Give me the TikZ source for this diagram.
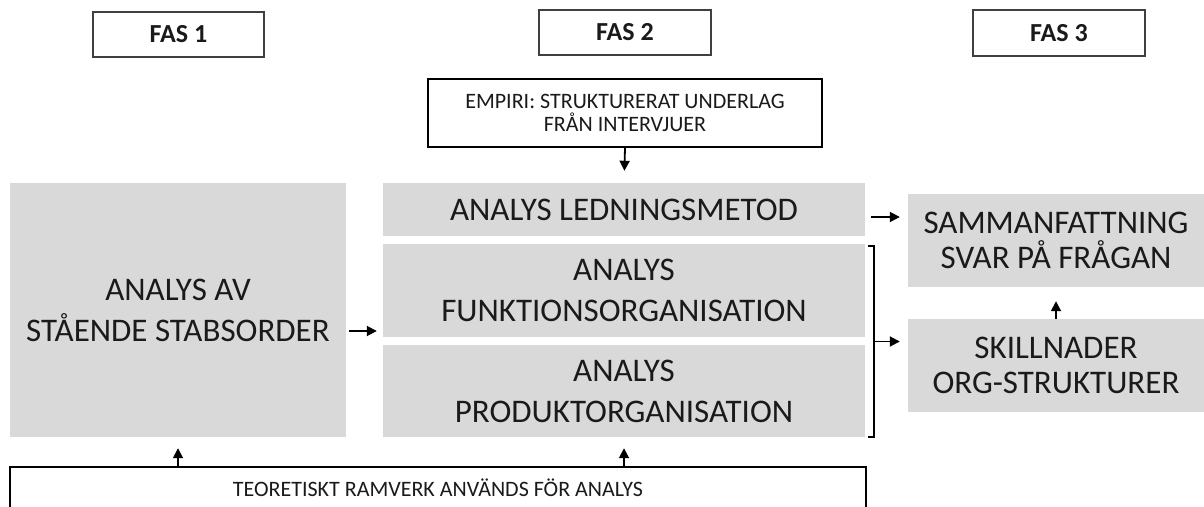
\documentclass[tikz,border=0pt]{standalone}
\usepackage{fontspec}
\setmainfont{Carlito}
\usetikzlibrary{arrows.meta}
\definecolor{panel}{HTML}{D9D9D9}
\definecolor{ink}{HTML}{1A1A1A}
\tikzset{
  graybox/.style={fill=panel, draw=none, inner sep=0pt, align=center,
    text=ink, font=\fontsize{33}{41}\selectfont},
  phasebox/.style={draw=black!75, line width=1.4pt, fill=white, inner sep=0pt,
    text=ink, font=\bfseries\fontsize{26}{30}\selectfont},
  notebox/.style={draw=black, line width=2pt, fill=white, inner sep=0pt,
    align=center, text=ink, font=\fontsize{22}{23}\selectfont},
  arr/.style={line width=1.8pt, -{Triangle[length=10pt,width=10pt]}},
}
\begin{document}
\begin{tikzpicture}[x=1pt,y=-1pt]
\useasboundingbox (0,0) rectangle (1204,506);
\clip (0,0) rectangle (1204,506);

% phase headings
\node[phasebox, minimum width=171pt, minimum height=45pt] (fas1) at (178.5,34.5) {FAS 1};
\node[phasebox, minimum width=172pt, minimum height=45pt] (fas2) at (625,32.5) {FAS 2};
\node[phasebox, minimum width=172pt, minimum height=46pt] (fas3) at (1059,33) {FAS 3};

% empirical input
\node[notebox, minimum width=394pt, minimum height=68pt] (emp) at (625,113)
  {EMPIRI: STRUKTURERAT UNDERLAG\\FRÅN INTERVJUER};

% phase 1
\node[graybox, minimum width=336pt, minimum height=254pt] (left) at (178,310)
  {ANALYS AV\\STÅENDE STABSORDER};

% phase 2
\node[graybox, minimum width=482pt, minimum height=53pt] (led) at (624,209.5)
  {ANALYS LEDNINGSMETOD};
\node[graybox, minimum width=482pt, minimum height=93pt] (funk) at (624,290.5)
  {ANALYS\\FUNKTIONSORGANISATION};
\node[graybox, minimum width=482pt, minimum height=92pt] (prod) at (624,391)
  {ANALYS\\PRODUKTORGANISATION};

% phase 3
\node[graybox, minimum width=296pt, minimum height=93pt,
  font=\fontsize{33}{35}\selectfont] (samm) at (1056,240.5)
  {SAMMANFATTNING\\SVAR PÅ FRÅGAN};
\node[graybox, minimum width=296pt, minimum height=93pt,
  font=\fontsize{33}{35}\selectfont] (skill) at (1056,365.5)
  {SKILLNADER\\ORG-STRUKTURER};

% theoretical framework
\node[notebox, minimum width=856pt, minimum height=42pt,
  font=\fontsize{22}{24}\selectfont] (theory) at (438,488)
  {TEORETISKT RAMVERK ANVÄNDS FÖR ANALYS};

% helper points
\coordinate (inlevel) at (0,331);
\coordinate (outlevel) at (0,217);
\coordinate (brtop) at (874,246);
\coordinate (brbot) at (874,437);
\coordinate (brmid) at (874,341.5);

% bracket grouping the two organisation analyses
\draw[line width=1.6pt] ([xshift=-6pt]brtop) -- (brtop) -- (brbot) -- ([xshift=-6pt]brbot);

% connectors
\draw[arr, shorten >=12pt] (emp.south) -- (led.north);
\draw[arr, shorten <=3pt, shorten >=6pt] (left.east |- inlevel) -- (funk.west |- inlevel);
\draw[arr, shorten <=6pt, shorten >=8pt] (led.east |- outlevel) -- (samm.west |- outlevel);
\draw[arr, shorten >=8pt] (brmid) -- (skill.west |- brmid);
\draw[arr, shorten >=14pt] (skill.north) -- (samm.south);
\draw[arr, shorten >=11pt] (theory.north -| left.south) -- (left.south);
\draw[arr, shorten >=11pt] (theory.north -| prod.south) -- (prod.south);
\end{tikzpicture}
\end{document}
